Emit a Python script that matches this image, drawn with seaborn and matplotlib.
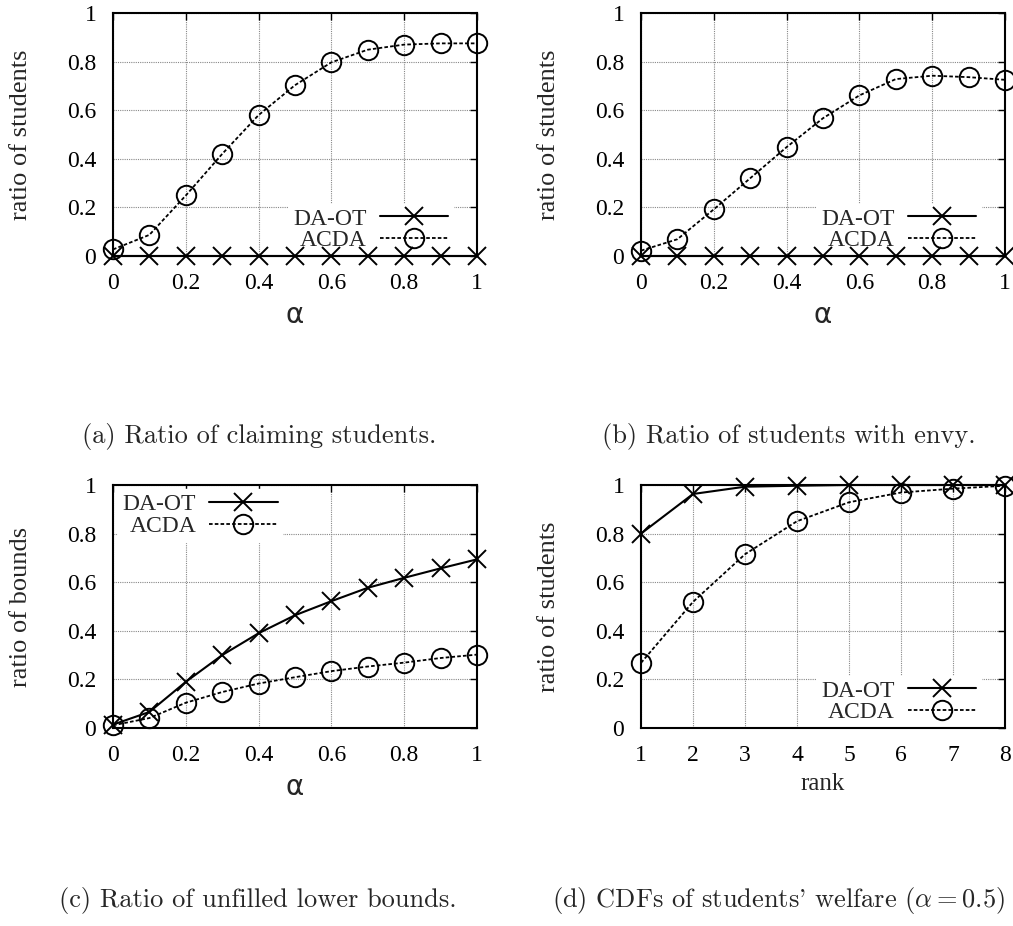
import numpy as np
import matplotlib
matplotlib.use("Agg")
import matplotlib.pyplot as plt
from matplotlib.ticker import FuncFormatter, MultipleLocator
import seaborn as sns

# ==========================================
# DATA
# ==========================================
alpha = [0.0, 0.1, 0.2, 0.3, 0.4, 0.5, 0.6, 0.7, 0.8, 0.9, 1.0]
rank = [1, 2, 3, 4, 5, 6, 7, 8]

claim_daot = [0, 0, 0, 0, 0, 0, 0, 0, 0, 0, 0]
claim_acda = [0.027, 0.087, 0.249, 0.420, 0.580, 0.703, 0.797, 0.849, 0.870, 0.875, 0.875]

envy_daot = [0, 0, 0, 0, 0, 0, 0, 0, 0, 0, 0]
envy_acda = [0.022, 0.069, 0.192, 0.320, 0.448, 0.567, 0.661, 0.728, 0.742, 0.736, 0.725]

bounds_daot = [0.014, 0.066, 0.190, 0.300, 0.390, 0.464, 0.522, 0.577, 0.618, 0.657, 0.694]
bounds_acda = [0.011, 0.041, 0.104, 0.148, 0.183, 0.209, 0.234, 0.253, 0.269, 0.288, 0.302]

cdf_daot = [0.800, 0.963, 0.993, 0.997, 1.0, 1.0, 1.0, 1.0]
cdf_acda = [0.268, 0.519, 0.715, 0.851, 0.929, 0.969, 0.985, 0.997]

series_names = ["DA-OT", "ACDA"]
captions = [
    "(a) Ratio of claiming students.",
    "(b) Ratio of students with envy.",
    "(c) Ratio of unfilled lower bounds.",
    r"(d) CDFs of students' welfare ($\alpha = 0.5$)",
]

# ==========================================
# STYLE
# ==========================================
sns.set_style("white")
plt.rcParams["font.family"] = ["Liberation Serif", "DejaVu Serif"]
plt.rcParams["mathtext.fontset"] = "cm"
FS_TICK = 17
FS_LABEL = 19

fig = plt.figure(figsize=(10.13, 9.26), dpi=100)

W = 364 / 1013
H = 243 / 926
panels = [
    dict(rect=[113 / 1013, 1 - 256 / 926, W, H], x=alpha, y=(claim_daot, claim_acda),
         ylabel="ratio of students", xlabel="α", loc="lower right", pos=(259, 436)),
    dict(rect=[641 / 1013, 1 - 256 / 926, W, H], x=alpha, y=(envy_daot, envy_acda),
         ylabel="ratio of students", xlabel="α", loc="lower right", pos=(789, 436)),
    dict(rect=[113 / 1013, 1 - 728 / 926, W, H], x=alpha, y=(bounds_daot, bounds_acda),
         ylabel="ratio of bounds", xlabel="α", loc="upper left", pos=(258, 900)),
    dict(rect=[641 / 1013, 1 - 728 / 926, W, H], x=rank, y=(cdf_daot, cdf_acda),
         ylabel="ratio of students", xlabel="rank", loc="lower right", pos=(778, 900)),
]

for p, cap in zip(panels, captions):
    ax = fig.add_axes(p["rect"])
    ys_daot, ys_acda = p["y"]
    sns.lineplot(x=p["x"], y=ys_daot, ax=ax, color="black", lw=1.5, linestyle="-",
                 marker="x", markersize=13, markeredgewidth=1.4, markeredgecolor="black",
                 clip_on=False, label=series_names[0], zorder=4)
    sns.lineplot(x=p["x"], y=ys_acda, ax=ax, color="black", lw=1.3, linestyle=(0, (2, 1.2)),
                 marker="o", markersize=14, fillstyle="none", markeredgewidth=1.4,
                 markeredgecolor="black", clip_on=False, label=series_names[1], zorder=3)

    ax.set_xlim(min(p["x"]), max(p["x"]))
    ax.set_ylim(0, 1)
    ax.yaxis.set_major_locator(MultipleLocator(0.2))
    if p["xlabel"] == "rank":
        ax.xaxis.set_major_locator(MultipleLocator(1))
    else:
        ax.xaxis.set_major_locator(MultipleLocator(0.2))
    fmt = FuncFormatter(lambda v, _: "%g" % round(v, 3))
    ax.xaxis.set_major_formatter(fmt)
    ax.yaxis.set_major_formatter(fmt)
    ax.tick_params(direction="in", length=5, width=1, top=True, right=True,
                   labelsize=FS_TICK, colors="black")
    ax.tick_params(axis="x", pad=12)
    ax.tick_params(axis="y", pad=12)
    ax.grid(True, color="#888888", linestyle=(0, (1, 1)), linewidth=0.8)
    for s in ax.spines.values():
        s.set_color("black")
        s.set_linewidth(1.5)

    ax.set_ylabel(p["ylabel"], fontsize=FS_LABEL)
    ax.yaxis.set_label_coords(-0.222, 0.5)
    if p["xlabel"] == "α":
        ax.set_xlabel("α", fontsize=FS_LABEL + 1, family=["DejaVu Sans"])
    else:
        ax.set_xlabel(p["xlabel"], fontsize=18)
    ax.xaxis.set_label_coords(0.5, -0.185)

    if p["loc"] == "lower right":
        anchor = (1 - 24 / 364, 0.0)
    else:
        anchor = (5 / 364, 1 - 4 / 243)
    leg = ax.legend(loc=p["loc"], bbox_to_anchor=anchor, markerfirst=False,
                    fontsize=FS_TICK, frameon=True, fancybox=False, framealpha=1,
                    edgecolor="white", handlelength=2.9, handletextpad=0.55,
                    borderpad=0.2, labelspacing=0.0, borderaxespad=0.0)
    leg.set_zorder(2)  # markers stay on top of the legend box
    # right-align the entry texts like gnuplot does
    for col in leg._legend_box._children[1]._children:
        col.align = "right"

    cx, cy = p["pos"]
    fig.text(cx / 1013, 1 - cy / 926, cap, ha="center", va="center",
             fontsize=19, family=["cmr10"])

plt.savefig("out.png", dpi=100)
